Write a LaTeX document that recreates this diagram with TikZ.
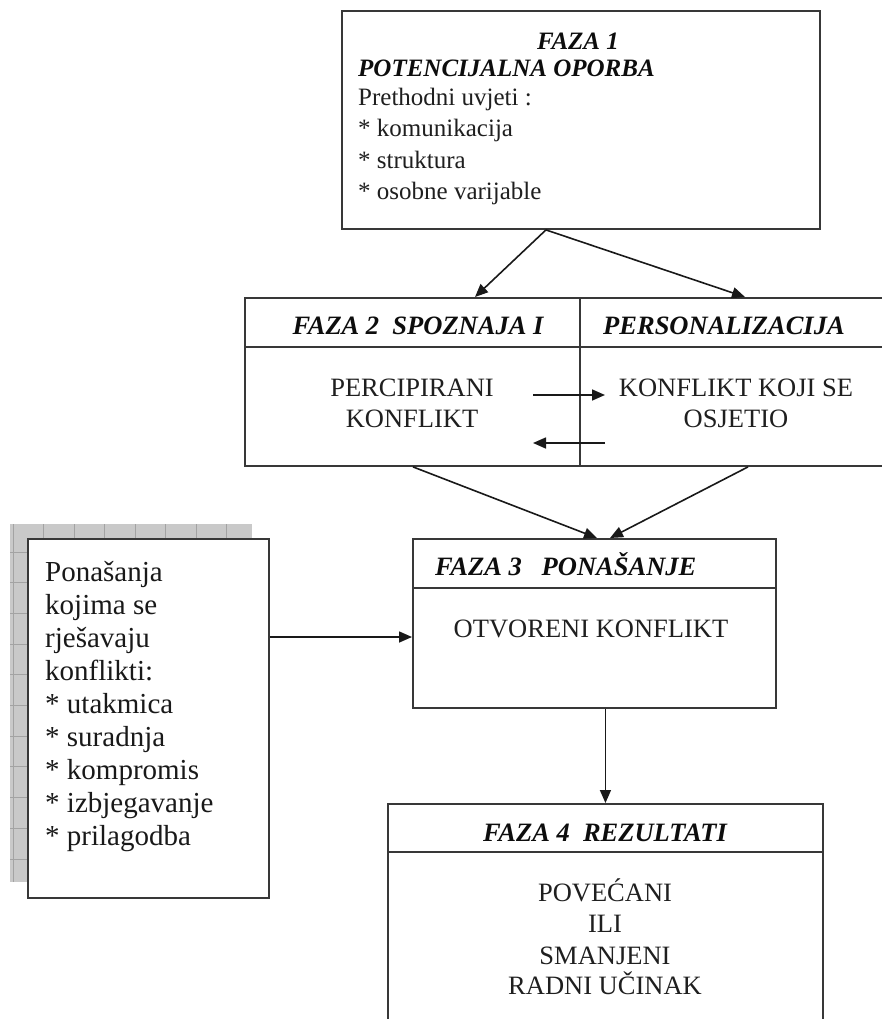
\documentclass[tikz,border=0pt]{standalone}
\usepackage{fontspec}
\setmainfont{Liberation Serif}
\usetikzlibrary{arrows.meta,calc}
\begin{document}
\begin{tikzpicture}[x=1pt,y=-1pt,
  box/.style={draw=black!78, line width=1.9pt, fill=white, inner sep=0pt, anchor=north west},
  sep/.style={draw=black!78, line width=1.9pt},
  conn/.style={draw=black!90, line width=1.6pt},
  arr/.style={conn, -{Triangle[length=13pt,width=11pt]}},
  hd/.style={font=\bfseries\itshape\fontsize{26.5}{30}\selectfont, text=black!95, inner sep=0pt},
  hdA/.style={font=\bfseries\itshape\fontsize{25}{30}\selectfont, text=black!95, inner sep=0pt},
  tx/.style={font=\fontsize{26.5}{30}\selectfont, text=black!88, inner sep=0pt},
  txA/.style={font=\fontsize{25}{30}\selectfont, text=black!88, inner sep=0pt},
  txL/.style={font=\fontsize{29}{33}\selectfont, text=black!90, inner sep=0pt, anchor=base west},
  gridln/.style={draw=black!36, line width=0.9pt}
  ]
\useasboundingbox (0,0) rectangle (882,1019);
\clip (0,0) rectangle (882,1019);

% FAZA 1
\node[box, minimum width=478pt, minimum height=218pt] (f1) at (341,10) {};
\node[hdA, anchor=base] (f1t) at (578,50) {FAZA 1};
\node[hdA, anchor=base west] (f1s) at (358,77) {POTENCIJALNA OPORBA};
\node[txA, anchor=base west] (f1a) at (358,106) {Prethodni uvjeti :};
\node[txA, anchor=base west] (f1b) at (358,137) {* komunikacija};
\node[txA, anchor=base west] (f1c) at (358,168) {* struktura};
\node[txA, anchor=base west] (f1d) at (358,199) {* osobne varijable};

% FAZA 2
\node[box, minimum width=680pt, minimum height=168pt] (f2) at (244,297) {};
\draw[sep] ($(f2.north west)+(0,50)$) -- ($(f2.north east)+(0,50)$);
\draw[sep] ($(f2.north west)+(336,0)$) -- ($(f2.south west)+(336,0)$);
\node[hd, anchor=base] (f2t) at (418,334) {FAZA 2\ \ SPOZNAJA I};
\node[hd, anchor=base west] (f2u) at (603,334) {PERSONALIZACIJA};
\node[tx, anchor=base] (p1a) at (412,396) {PERCIPIRANI};
\node[tx, anchor=base] (p1b) at (412,427) {KONFLIKT};
\node[tx, anchor=base] (p2a) at (736,396) {KONFLIKT KOJI SE};
\node[tx, anchor=base] (p2b) at (736,427) {OSJETIO};
\coordinate (ar1s) at (533,395);
\coordinate (ar1e) at (605,395);
\coordinate (ar2s) at (605,443);
\coordinate (ar2e) at (533,443);
\draw[arr] (ar1s) -- (ar1e);
\draw[arr] (ar2s) -- (ar2e);

% FAZA 3
\node[box, minimum width=363pt, minimum height=169pt] (f3) at (412,538) {};
\draw[sep] ($(f3.north west)+(0,50)$) -- ($(f3.north east)+(0,50)$);
\node[hd, anchor=base west] (f3t) at (435,575) {FAZA 3\ \ \ PONAŠANJE};
\node[tx, anchor=base] (f3a) at (591,637) {OTVORENI KONFLIKT};

% left box with grid shadow
\fill[black!21] (10,524) rectangle (252,882);
\foreach \x in {13,43.5,...,250} \draw[gridln] (\x,524) -- (\x,882);
\foreach \y in {552,582.7,...,882} \draw[gridln] (10,\y) -- (252,\y);
\node[box, minimum width=241pt, minimum height=359pt] (lb) at (27,538) {};
\node[txL] (l1) at (45,581) {Ponašanja};
\node[txL] (l2) at (45,614) {kojima se};
\node[txL] (l3) at (45,647) {rješavaju};
\node[txL] (l4) at (45,680) {konflikti:};
\node[txL] (l5) at (45,713) {* utakmica};
\node[txL] (l6) at (45,746) {* suradnja};
\node[txL] (l7) at (45,779) {* kompromis};
\node[txL] (l8) at (45,812) {* izbjegavanje};
\node[txL] (l9) at (45,845) {* prilagodba};

% FAZA 4
\node[box, minimum width=435pt, minimum height=260pt] (f4) at (387,803) {};
\draw[sep] ($(f4.north west)+(0,49)$) -- ($(f4.north east)+(0,49)$);
\node[hd, anchor=base] (f4t) at (605,841) {FAZA 4\ \ REZULTATI};
\node[tx, anchor=base] (f4a) at (605,901) {POVEĆANI};
\node[tx, anchor=base] (f4b) at (605,932) {ILI};
\node[tx, anchor=base] (f4c) at (605,964) {SMANJENI};
\node[tx, anchor=base] (f4d) at (605,994) {RADNI UČINAK};

% connectors
\draw[arr] ([xshift=-35pt]f1.south) -- ($(f2.north west)+(231,0)$);
\draw[arr] ([xshift=-35pt]f1.south) -- ($(f2.north west)+(501,0)$);
\draw[arr] ($(f2.south west)+(169,0)$) -- ($(f3.north west)+(185,0)$);
\draw[arr] ($(f2.south west)+(504,0)$) -- ($(f3.north west)+(198,0)$);
\coordinate (c3in) at ($(f3.north west)+(0,99)$);
\draw[arr] (lb.east |- c3in) -- (c3in);
\draw[arr] ([xshift=11pt]f3.south) -- ([xshift=11pt]f3.south |- f4.north);
\end{tikzpicture}
\end{document}
